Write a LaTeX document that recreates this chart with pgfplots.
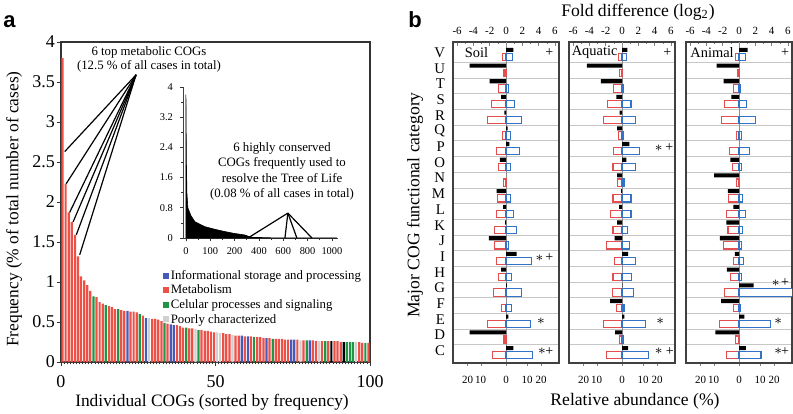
\documentclass[border=0pt]{standalone}
\usepackage{fontspec}
\setmainfont{Liberation Serif}
\newfontfamily\arialfont{Liberation Sans}
\usepackage{pgfplots}
\pgfplotsset{compat=1.18}
\definecolor{cogred}{RGB}{238,80,70}
\definecolor{cogblue}{RGB}{70,90,185}
\definecolor{coggreen}{RGB}{30,150,70}
\definecolor{coggray}{RGB}{208,208,208}
\definecolor{ored}{RGB}{228,78,78}
\definecolor{oblue}{RGB}{50,115,200}
\newcommand{\fs}[1]{\fontsize{#1}{#1}\selectfont}

\pgfplotsset{
  pbase/.style={
    scale only axis, anchor=south west, width=53pt, height=160.5pt,
    xmin=-6.5, xmax=6.5, ymin=-0.65, ymax=19.8,
    /pgf/number format/assume math mode=true,
    tick label style={font=\fs{5.5}},
    axis line style={draw=black!75, line width=0.55pt},
  },
  pmain/.style={
    pbase,
    xtick={-6,-4,...,6}, minor x tick num=1,
    xticklabel pos=right, xtick pos=right,
    major tick length=1.8pt, minor tick length=1pt,
    ytick={0,...,19}, yticklabels={},
    minor ytick={0.5,1.5,...,18.5},
    yminorgrids=true,
    minor y grid style={black!22, line width=0.45pt},
    every major y tick/.append style={draw=none},
    every minor y tick/.append style={draw=none},
    yticklabel style={font=\fs{7.4}, xshift=-0.5pt, yshift=1pt},
  },
  pbottom/.style={
    pbase,
    axis x line*=bottom, axis y line=none,
    xtick={-4.7,-3.1,0,2.6,4.3}, xticklabels={20,10,0,10,20},
    tick align=outside, major tick length=1.5pt,
    xticklabel style={yshift=-1.5pt},
  },
  pblack/.style={xbar, bar width=0.26, bar shift=0.30, fill=black, draw=none},
  pred/.style={xbar, bar width=0.46, bar shift=-0.16, fill=white, draw=ored, line width=0.55pt},
  pblue/.style={xbar, bar width=0.46, bar shift=-0.16, fill=white, draw=oblue, line width=0.55pt},
}

\begin{document}
\begin{tikzpicture}
\path[use as bounding box] (0,0) rectangle (396.5pt,206.5pt);

%================ Panel a: main axis ================
\begin{axis}[
  at={(30.5pt,25.5pt)}, anchor=south west, scale only axis,
  width=154.5pt, height=160pt,
  xmin=0, xmax=100, ymin=0, ymax=4,
  xtick={0,50,100}, ytick={0,0.5,...,4},
  minor xtick={1,2,...,99},
  xtick pos=left, ytick pos=left,
  tick align=outside, major tick length=2pt, minor tick length=1.2pt,
  tick style={black!80, line width=0.4pt},
  /pgf/number format/assume math mode=true,
  tick label style={font=\fs{9}},
  xticklabel style={yshift=-1.2pt},
  yticklabel style={xshift=2.5pt},
  axis line style={black!80, line width=0.6pt},
  legend style={at={(rel axis cs:0.31,0.305)}, anchor=north west, draw=none, fill=none,
    font=\fs{6.4}, nodes={inner sep=0.8pt, text height=4.4pt, text depth=1.3pt, anchor=west},
    row sep=0pt, legend cell align=left},
  legend image code/.code={\draw[#1,draw=none] (0pt,-1.2pt) rectangle (3pt,1.8pt);},
]
\addplot[ybar, bar width=0.72, bar shift=0pt, fill=cogblue, draw=none] coordinates {
 (21.5,0.64) (27.5,0.55) (35.5,0.47) (36.5,0.46) (58.5,0.33) (60.5,0.32)
 (66.5,0.30) (74.5,0.28) (75.5,0.28) (80.5,0.27)};
\addlegendentry{Informational storage and processing}
\addplot[ybar, bar width=0.72, bar shift=0pt, fill=cogred, draw=none] coordinates {
 (0.5,3.80) (1.5,2.23) (2.5,1.87) (3.5,1.75) (4.5,1.59) (5.5,1.32) (6.5,1.07)
 (7.5,1.02) (8.5,0.96) (9.5,0.89) (11.5,0.81) (12.5,0.75) (13.5,0.73) (15.5,0.70)
 (16.5,0.69) (17.5,0.66) (19.5,0.65) (20.5,0.64) (22.5,0.63) (23.5,0.63) (24.5,0.62)
 (26.5,0.58) (29.5,0.54) (30.5,0.54) (31.5,0.53) (32.5,0.51) (34.5,0.48) (37.5,0.46)
 (38.5,0.45) (39.5,0.43) (41.5,0.42) (42.5,0.42) (45.5,0.40) (46.5,0.39) (47.5,0.39)
 (48.5,0.38) (49.5,0.37) (52.5,0.36) (53.5,0.35) (54.5,0.35) (56.5,0.33) (57.5,0.33)
 (59.5,0.32) (61.5,0.32) (63.5,0.31) (64.5,0.31) (65.5,0.30) (67.5,0.30) (69.5,0.29)
 (70.5,0.29) (71.5,0.29) (72.5,0.28) (73.5,0.28) (76.5,0.28) (78.5,0.27) (81.5,0.27)
 (82.5,0.26) (84.5,0.26) (86.5,0.26) (88.5,0.26) (89.5,0.26) (90.5,0.25) (96.5,0.25)
 (97.5,0.24) (99.5,0.24)};
\addlegendentry{Metabolism}
\addplot[ybar, bar width=0.72, bar shift=0pt, fill=coggreen, draw=none] coordinates {
 (10.5,0.82) (14.5,0.71) (18.5,0.66) (25.5,0.60) (33.5,0.49) (40.5,0.43) (44.5,0.40)
 (62.5,0.31) (68.5,0.29) (79.5,0.27) (85.5,0.26) (92.5,0.25) (93.5,0.25) (94.5,0.25)
 (98.5,0.24)};
\addlegendentry{Celular processes and signaling}
\addplot[ybar, bar width=0.72, bar shift=0pt, fill=coggray, draw=none] coordinates {
 (28.5,0.55) (43.5,0.41) (50.5,0.37) (51.5,0.36) (55.5,0.34) (77.5,0.27) (83.5,0.26)
 (95.5,0.25)};
\addlegendentry{Poorly characterized}
\addplot[ybar, bar width=0.72, bar shift=0pt, fill=black, draw=none] coordinates {
 (87.5,0.26) (91.5,0.25)};
% annotation lines
\draw[line width=0.6pt] (axis cs:24.3,3.59) -- (axis cs:1.2,2.63);
\draw[line width=0.6pt] (axis cs:24.3,3.59) -- (axis cs:1.7,2.23);
\draw[line width=0.6pt] (axis cs:24.3,3.59) -- (axis cs:2.8,1.87);
\draw[line width=0.6pt] (axis cs:24.3,3.59) -- (axis cs:3.9,1.75);
\draw[line width=0.6pt] (axis cs:24.3,3.59) -- (axis cs:4.95,1.59);
\draw[line width=0.6pt] (axis cs:24.3,3.59) -- (axis cs:6.05,1.34);
\end{axis}

%================ Panel a: inset ================
\begin{axis}[
  at={(91.5pt,87.5pt)}, anchor=south west, scale only axis,
  width=77.5pt, height=75.5pt,
  xmin=-0.12, xmax=6.25, ymin=0, ymax=4,
  axis x line=bottom, axis y line=left,
  axis line style={-, black!75, line width=0.5pt},
  xtick={0,...,6}, xticklabels={0,100,200,400,600,800,1000},
  ytick={0,0.8,1.6,2.4,3.2,4},
  minor x tick num=1, minor y tick num=1,
  tick align=outside, major tick length=1.5pt, minor tick length=1pt,
  tick style={black!80, line width=0.35pt},
  tick label style={font=\fs{5.2}},
  /pgf/number format/assume math mode=true,
  clip=false,
]
\addplot[fill=black, draw=black, line width=0.3pt] coordinates {
 (0,3.8) (0.02,2.0) (0.04,1.2) (0.08,0.8) (0.2,0.6) (0.37,0.43) (0.78,0.30)
 (1.19,0.23) (1.6,0.17) (2.0,0.12) (2.42,0.08) (2.55,0.05) (2.7,0.02) (3.5,0.005) (6.2,0)} \closedcycle;
\draw[line width=0.6pt] (axis cs:4.19,0.66) -- (axis cs:2.55,0);
\draw[line width=0.6pt] (axis cs:4.19,0.66) -- (axis cs:4.07,0);
\draw[line width=0.6pt] (axis cs:4.19,0.66) -- (axis cs:4.56,0);
\draw[line width=0.6pt] (axis cs:4.19,0.66) -- (axis cs:5.18,0);
\end{axis}

% Panel a texts
\node[font=\arialfont\bfseries\fs{11}, anchor=base west, inner sep=0] at (1.5pt,192.5pt) {a};
\node[font=\fs{6.4}, align=center, inner sep=0] at (74.5pt,177pt)
  {6 top metabolic COGs\\[0.6pt](12.5 \% of all cases in total)};
\node[font=\fs{6.4}, align=center, inner sep=0] at (141pt,120.8pt)
  {6 highly conserved\\[1.2pt]COGs frequently used to\\[1.2pt]resolve the Tree of Life\\[1.2pt](0.08 \% of all cases in total)};
\node[font=\fs{8.7}, rotate=90] at (7pt,102pt) {Frequency (\% of total number of cases)};
\node[font=\fs{8.7}] at (106pt,5.5pt) {Individual COGs (sorted by frequency)};

%================ Panel b: Soil ================
\begin{axis}[pmain, at={(226.5pt,25pt)}, yticklabels={C,D,E,F,G,H,I,J,K,L,M,N,O,P,Q,R,S,T,U,V}]
\draw[black!45, line width=0.4pt] (axis cs:0,-0.65) -- (axis cs:0,19.8);
\addplot[pblack] coordinates {(0.9,19) (-4.45,18) (-2.0,17) (-0.6,16) (-0.2,15) (0.2,14) (0.4,13)
 (-0.75,12) (-1.15,10) (-0.35,9) (-0.1,8) (-2.1,7) (1.3,6) (-0.6,5) (0.1,4) (0.3,2) (-4.45,1) (0.9,0)};
\addplot[pred] coordinates {(-0.45,19) (-0.25,18) (-0.95,17) (-1.8,16) (-2.3,15) (-0.45,14) (-1.15,13)
 (-0.95,12) (-0.35,11) (-1.0,10) (-1.15,9) (-1.45,8) (-1.45,7) (-1.15,6) (-0.95,5) (-1.55,4) (-0.6,3)
 (-2.3,2) (-0.25,1) (-1.7,0)};
\addplot[pblue] coordinates {(0.8,19) (0.3,17) (1.0,16) (1.9,15) (0.6,14) (1.6,13) (0.6,12) (0.5,10)
 (0.9,9) (1.3,8) (0.3,7) (3.1,6) (0.65,5) (1.95,4) (0.7,3) (3.0,2) (3.2,0)};
\node[font=\fs{7.2}, anchor=west, inner sep=0] at (axis cs:-5.1,19.15) {Soil};
\node[font=\fs{7}, inner sep=0] at (axis cs:5.3,19.15) {+};
\node[font=\fs{7}, inner sep=0] at (axis cs:4.1,6.05) {$\ast$};
\node[font=\fs{7}, inner sep=0] at (axis cs:5.3,6.05) {+};
\node[font=\fs{7}, inner sep=0] at (axis cs:4.3,2.0) {$\ast$};
\node[font=\fs{7}, inner sep=0] at (axis cs:4.4,0.1) {$\ast$};
\node[font=\fs{7}, inner sep=0] at (axis cs:5.3,0.1) {+};
\end{axis}
\begin{axis}[pbottom, at={(226.5pt,25pt)}]
\end{axis}

%================ Panel b: Aquatic ================
\begin{axis}[pmain, at={(284.5pt,25pt)}]
\draw[black!45, line width=0.4pt] (axis cs:0,-0.65) -- (axis cs:0,19.8);
\addplot[pblack] coordinates {(0.65,19) (-4.3,18) (-2.6,17) (-0.7,16) (-0.3,15) (-0.6,14) (0.9,13)
 (0.55,12) (-0.6,11) (-0.1,10) (-0.35,9) (-0.6,8) (-0.9,7) (0.75,6) (0.05,4) (-1.45,3) (0.3,2)
 (-0.85,1) (0.75,0)};
\addplot[pred] coordinates {(-0.4,19) (-0.3,18) (-1.05,17) (-1.75,16) (-2.25,15) (-0.4,14) (-1.05,13)
 (-1.1,12) (-0.5,11) (-1.1,10) (-1.4,9) (-1.1,8) (-1.95,7) (-0.9,6) (-1.1,5) (-1.2,4) (-0.7,3)
 (-2.25,2) (-0.3,1) (-1.85,0)};
\addplot[pblue] coordinates {(0.55,19) (0.2,17) (1.1,16) (1.65,15) (0.2,14) (2.1,13) (1.6,12) (0.25,11)
 (1.1,10) (1.1,9) (0.65,8) (0.95,7) (1.65,6) (1.15,5) (1.4,4) (0.25,3) (2.9,2) (0.15,1) (3.25,0)};
\node[font=\fs{7.2}, anchor=west, inner sep=0] at (axis cs:-6.2,19.15) {Aquatic};
\node[font=\fs{7}, inner sep=0] at (axis cs:5.55,19.15) {+};
\node[font=\fs{7}, inner sep=0] at (axis cs:4.5,13.05) {$\ast$};
\node[font=\fs{7}, inner sep=0] at (axis cs:5.8,13.05) {+};
\node[font=\fs{7}, inner sep=0] at (axis cs:4.7,2.0) {$\ast$};
\node[font=\fs{7}, inner sep=0] at (axis cs:4.5,0.1) {$\ast$};
\node[font=\fs{7}, inner sep=0] at (axis cs:5.85,0.1) {+};
\end{axis}
\begin{axis}[pbottom, at={(284.5pt,25pt)}]
\end{axis}

%================ Panel b: Animal ================
\begin{axis}[pmain, at={(343pt,25pt)}]
\draw[black!45, line width=0.4pt] (axis cs:0,-0.65) -- (axis cs:0,19.8);
\addplot[pblack] coordinates {(1.05,19) (-2.75,18) (-1.9,17) (-0.95,16) (-1.05,12) (-3.05,11) (-1.35,10)
 (-0.7,9) (-1.55,8) (-2.35,7) (-0.5,6) (-1.5,5) (1.8,4) (-2.2,3) (0.65,2) (-2.9,1) (0.85,0)};
\addplot[pred] coordinates {(-0.4,19) (-0.2,18) (-0.65,17) (-1.8,16) (-2.1,15) (-0.35,14) (-1.15,13)
 (-0.85,12) (-0.3,11) (-1.3,10) (-1.5,9) (-1.35,8) (-1.9,7) (-0.7,6) (-1.05,5) (-1.8,4) (-0.7,3)
 (-2.35,2) (-0.4,1) (-1.5,0)};
\addplot[pblue] coordinates {(0.85,19) (0.2,17) (0.95,16) (2.0,15) (0.3,14) (1.3,13) (0.35,12)
 (0.45,10) (0.85,9) (0.45,8) (0.35,7) (0.5,6) (0.35,5) (6.8,4) (0.15,3) (3.85,2) (2.7,0)};
\node[font=\fs{7.2}, anchor=west, inner sep=0] at (axis cs:-6.0,19.15) {Animal};
\node[font=\fs{7}, inner sep=0] at (axis cs:5.65,19.15) {+};
\node[font=\fs{7}, inner sep=0] at (axis cs:4.5,4.45) {$\ast$};
\node[font=\fs{7}, inner sep=0] at (axis cs:5.65,4.45) {+};
\node[font=\fs{7}, inner sep=0] at (axis cs:4.8,2.0) {$\ast$};
\node[font=\fs{7}, inner sep=0] at (axis cs:4.8,0.1) {$\ast$};
\node[font=\fs{7}, inner sep=0] at (axis cs:5.65,0.1) {+};
\end{axis}
\begin{axis}[pbottom, at={(343pt,25pt)}]
\end{axis}

% Panel b texts
\node[font=\arialfont\bfseries\fs{11}, anchor=base west, inner sep=0] at (204pt,192.5pt) {b};
\node[font=\fs{8.8}] at (319pt,200.3pt) {Fold difference (log\textsubscript{2})};
\node[font=\fs{8.8}] at (317.5pt,6pt) {Relative abundance (\%)};
\node[font=\fs{8.8}, rotate=90] at (207.5pt,104pt) {Major COG functional category};
\end{tikzpicture}
\end{document}
